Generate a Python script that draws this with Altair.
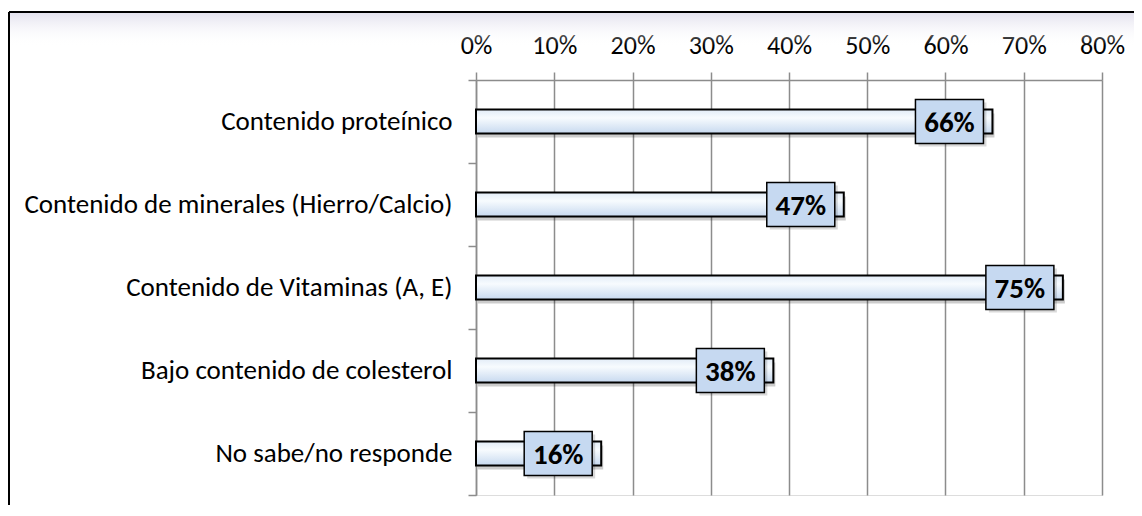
import altair as alt
import pandas as pd

categories = [
    "Contenido proteínico",
    "Contenido de minerales (Hierro/Calcio)",
    "Contenido de Vitaminas (A, E)",
    "Bajo contenido de colesterol",
    "No sabe/no responde",
]
values = [0.66, 0.47, 0.75, 0.38, 0.16]
value_labels = ["66%", "47%", "75%", "38%", "16%"]
tick_values = [0, 0.1, 0.2, 0.3, 0.4, 0.5, 0.6, 0.7, 0.8]

df = pd.DataFrame({"cat": categories, "val": values, "lab": value_labels})

FONT = "Carlito, Lato, 'Open Sans', sans-serif"
W, H = 626, 415
PL, PT, PR, PB = 468, 72, 32, 10
GRID = "#8c8c8c"

x_enc = alt.X(
    "val:Q",
    scale=alt.Scale(domain=[0, 0.8], nice=False, zero=True),
    axis=alt.Axis(
        orient="top", format=".0%", values=tick_values, grid=True,
        gridColor=GRID, gridWidth=1.5, domainColor=GRID, domainWidth=1.5,
        tickColor=GRID, tickWidth=1.5, tickSize=8, labelFontSize=26,
        labelFont=FONT, labelColor="black", labelPadding=14, title=None,
        labelFlush=False, labelOverlap=False,
    ),
)
y_enc = alt.Y(
    "cat:N", sort=categories,
    scale=alt.Scale(paddingInner=0, paddingOuter=0),
    axis=alt.Axis(
        grid=False, tickBand="extent", tickColor=GRID, tickWidth=1.5, tickSize=8,
        domainColor=GRID, domainWidth=1.5, labelFontSize=27, labelFont=FONT,
        labelColor="black", labelPadding=16, labelLimit=0, title=None,
    ),
)

one = alt.Data(values=[{"a": 1}])

band = alt.Chart(one).mark_rect(
    fill=alt.Gradient(
        gradient="linear",
        stops=[alt.GradientStop(color="rgba(226,224,237,1)", offset=0),
               alt.GradientStop(color="rgba(255,255,255,0)", offset=1)],
        x1=0, x2=0, y1=0, y2=1,
    ),
    strokeWidth=0,
).encode(x=alt.value(-PL + 1), x2=alt.value(W + PR),
         y=alt.value(-PT + 4), y2=alt.value(-PT + 38))

top_line = alt.Chart(one).mark_rule(color="black", strokeWidth=2).encode(
    x=alt.value(-PL + 1), x2=alt.value(W + PR), y=alt.value(-PT + 4))
left_line = alt.Chart(one).mark_rule(color="black", strokeWidth=2).encode(
    x=alt.value(-PL + 1), y=alt.value(-PT + 4), y2=alt.value(H + PB))

base = alt.Chart(df)

shadow = base.mark_bar(size=24, color="#000000", opacity=0.2, xOffset=2, yOffset=4).encode(
    x=x_enc, y=y_enc)

bars = base.mark_bar(
    size=24,
    fill=alt.Gradient(
        gradient="linear",
        stops=[alt.GradientStop(color="#e2ecf7", offset=0),
               alt.GradientStop(color="#f7fbfe", offset=0.35),
               alt.GradientStop(color="#c7d9ef", offset=1)],
        x1=0, x2=0, y1=0, y2=1,
    ),
    stroke="black", strokeWidth=2,
).encode(x=x_enc, y=y_enc)

box_path = "M-1,-0.647L1,-0.647L1,0.647L-1,0.647Z"
box_shadow = base.mark_point(
    shape=box_path, size=68 * 68, filled=True, color="#000000", opacity=0.15,
    xOffset=-40, yOffset=3,
).encode(x="val:Q", y=alt.Y("cat:N", sort=categories))
boxes = base.mark_point(
    shape=box_path, size=68 * 68, filled=True, fill="#c6d9f1", stroke="black",
    strokeWidth=1.5, opacity=1, xOffset=-43,
).encode(x="val:Q", y=alt.Y("cat:N", sort=categories))

texts = base.mark_text(
    font=FONT, fontSize=29, fontWeight="bold", color="black", dx=-43, dy=1,
    align="center", baseline="middle",
).encode(x="val:Q", y=alt.Y("cat:N", sort=categories), text="lab:N")

chart = alt.layer(band, top_line, left_line, shadow, bars, box_shadow, boxes, texts).properties(
    width=W, height=H,
    autosize=alt.AutoSizeParams(type="none"),
    padding={"left": PL, "top": PT, "right": PR, "bottom": PB},
).configure_view(stroke=None).configure(background="white")

chart.save("out.html", embed_options={"renderer": "svg", "actions": False})
